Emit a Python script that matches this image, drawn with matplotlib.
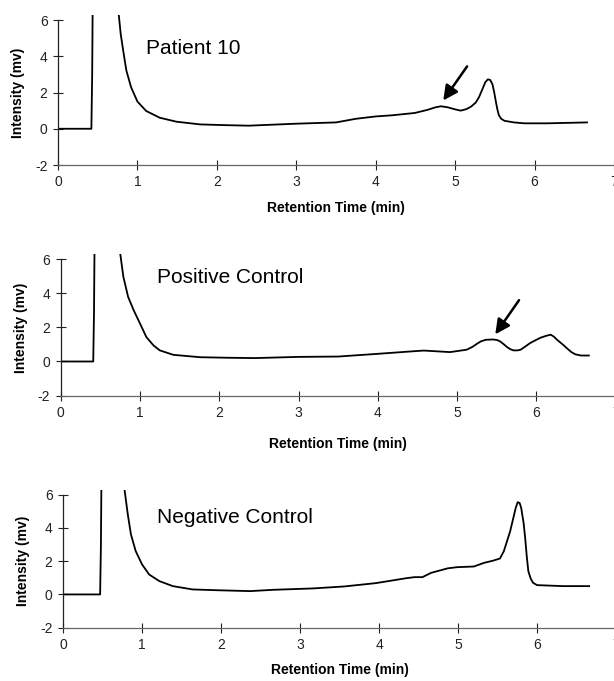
import matplotlib
matplotlib.use("Agg")
import matplotlib.pyplot as plt

plt.rcParams['font.family'] = ['Liberation Sans', 'DejaVu Sans']
plt.rcParams['axes.unicode_minus'] = False

# chromatogram traces (retention time in min, intensity in mv)
# values of 9 mark where the trace runs off the top of the scale
t_patient = [0.0, 0.42, 0.43, 0.44, 0.74, 0.765, 0.79, 0.82, 0.86, 0.92, 1.0, 1.11, 1.28,
             1.49, 1.79, 2.1, 2.4, 3.0, 3.5, 3.75, 4.0, 4.2, 4.49, 4.65, 4.75, 4.82, 4.9,
             5.0, 5.07, 5.14, 5.2, 5.26, 5.3, 5.34, 5.38, 5.41, 5.44, 5.47, 5.49, 5.51,
             5.53, 5.55, 5.58, 5.62, 5.74, 5.87, 6.16, 6.66]
y_patient = [0.0, 0.0, 3.0, 9.0, 9.0, 6.28, 5.2, 4.33, 3.22, 2.29, 1.5, 0.98, 0.61,
             0.39, 0.24, 0.2, 0.17, 0.28, 0.35, 0.55, 0.68, 0.74, 0.87, 1.04, 1.18, 1.24, 1.19,
             1.07, 1.0, 1.08, 1.22, 1.45, 1.74, 2.15, 2.57, 2.72, 2.7, 2.45, 2.05, 1.56,
             1.1, 0.75, 0.55, 0.44, 0.35, 0.3, 0.3, 0.35]

t_positive = [0.0, 0.41, 0.42, 0.43, 0.73, 0.75, 0.79, 0.85, 0.92, 1.0, 1.08, 1.17, 1.25,
              1.42, 1.76, 2.1, 2.45, 3.0, 3.5, 4.0, 4.48, 4.58, 4.91, 5.12, 5.19, 5.25,
              5.3, 5.36, 5.45, 5.5, 5.54, 5.59, 5.63, 5.67, 5.71, 5.76, 5.8, 5.86, 5.92,
              5.99, 6.05, 6.12, 6.18, 6.22, 6.26, 6.33, 6.39, 6.44, 6.49, 6.56, 6.66]
y_positive = [0.0, 0.0, 3.0, 9.0, 9.0, 6.33, 4.96, 3.78, 3.0, 2.22, 1.43, 0.94, 0.65,
              0.39, 0.25, 0.22, 0.2, 0.27, 0.29, 0.45, 0.61, 0.64, 0.55, 0.69, 0.85, 1.04,
              1.18, 1.27, 1.29, 1.26, 1.18, 1.0, 0.84, 0.72, 0.65, 0.65, 0.69, 0.88, 1.08,
              1.25, 1.39, 1.5, 1.57, 1.45, 1.27, 1.0, 0.75, 0.55, 0.42, 0.35, 0.35]

t_negative = [0.0, 0.47, 0.48, 0.49, 0.76, 0.78, 0.82, 0.86, 0.92, 1.0, 1.09, 1.22, 1.39,
              1.64, 1.97, 2.37, 2.67, 3.16, 3.56, 3.96, 4.35, 4.45, 4.55, 4.66, 4.87, 4.99,
              5.2, 5.33, 5.45, 5.53, 5.58, 5.62, 5.66, 5.7, 5.73, 5.755, 5.78, 5.8, 5.83,
              5.85, 5.87, 5.89, 5.92, 5.95, 6.0, 6.33, 6.66]
y_negative = [0.0, 0.0, 3.0, 9.0, 9.0, 6.26, 4.82, 3.61, 2.61, 1.81, 1.2, 0.8, 0.5,
              0.3, 0.25, 0.2, 0.28, 0.36, 0.48, 0.68, 0.98, 1.04, 1.04, 1.3, 1.57, 1.64,
              1.68, 1.9, 2.04, 2.16, 2.6, 3.2, 3.8, 4.6, 5.2, 5.55, 5.5, 5.2, 4.3,
              3.4, 2.3, 1.4, 0.95, 0.7, 0.56, 0.5, 0.5]

labels = ["Patient 10", "Positive Control", "Negative Control"]
# arrows pointing at the peak of interest: (tail, tip)
arrow_patient = ((5.15, 3.44), (4.85, 1.56))
arrow_positive = ((5.78, 3.59), (5.48, 1.59))

xticks = [0, 1, 2, 3, 4, 5, 6, 7]
yticks = [-2, 0, 2, 4, 6]

fig = plt.figure(figsize=(6.14, 6.81), dpi=100)

# axes rectangles in figure fractions
rects = [
    [0.0945, 0.7577, 0.9055, 0.2209],
    [0.0989, 0.4190, 0.9040, 0.2082],
    [0.1026, 0.0783, 0.9007, 0.2026],
]
traces = [(t_patient, y_patient), (t_positive, y_positive), (t_negative, y_negative)]
arrows = [arrow_patient, arrow_positive, None]
label_pos = [(1.11, 4.45), (1.21, 4.89), (1.19, 4.6)]
xlab_pad = [8, 12, 8]

ytop = 6.3
for rect, (t, y), lab, arr, lp, pad in zip(rects, traces, labels, arrows, label_pos, xlab_pad):
    ax = fig.add_axes(rect)
    ax.plot(t, y, color='black', lw=1.3, solid_joinstyle='round')
    ax.set_xlim(0, 7)
    ax.set_ylim(-2, ytop)
    ax.set_xticks(xticks)
    ax.set_yticks(yticks)
    for s in ['top', 'right']:
        ax.spines[s].set_visible(False)
    ax.spines['left'].set_bounds(-2, 6)
    ax.spines['left'].set_color('#222222')
    ax.spines['bottom'].set_color('#666666')
    ax.spines['left'].set_linewidth(0.9)
    ax.spines['bottom'].set_linewidth(0.9)
    ax.tick_params(direction='inout', length=7, width=0.8, labelsize=10,
                   colors='#222222', pad=4)
    ax.set_xlabel("Retention Time (min)", fontsize=10, fontweight='bold', labelpad=pad)
    ax.set_ylabel("Intensity (mv)", fontsize=10, fontweight='bold')
    ax.yaxis.set_label_coords(-33 / (rect[2] * 614), (2 + 2) / (ytop + 2))
    ax.text(lp[0], lp[1], lab, fontsize=15, va='center', ha='left')
    if arr is not None:
        ax.annotate('', xy=arr[1], xytext=arr[0],
                    arrowprops=dict(arrowstyle='-|>', color='black', lw=1.8,
                                    mutation_scale=22, shrinkA=0, shrinkB=0))

fig.savefig("out.png", dpi=100)
